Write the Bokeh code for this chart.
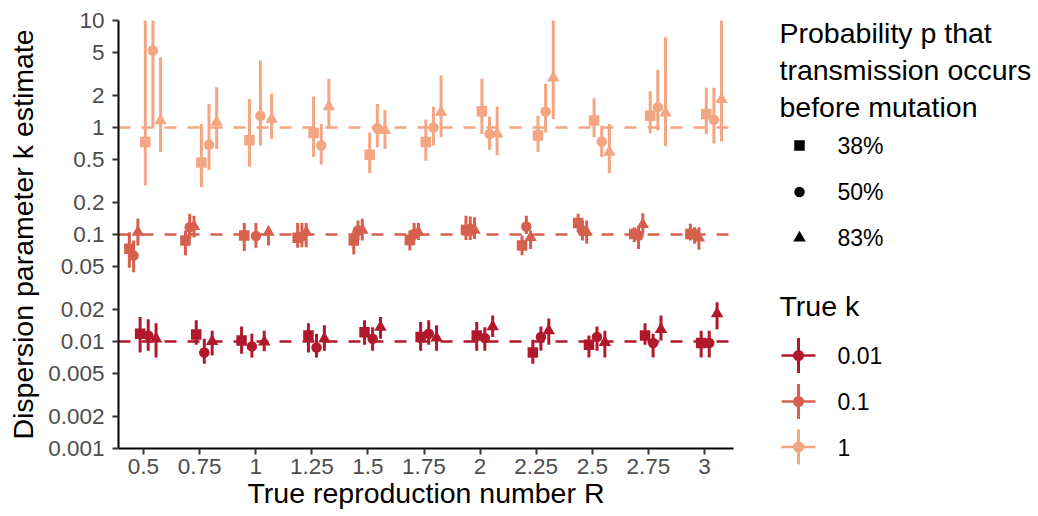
from bokeh.plotting import figure
from bokeh.models import Range1d, FixedTicker, CustomJSTickFormatter, Span, ColumnDataSource
from bokeh.layouts import row
from bokeh.core.properties import value
from bokeh.embed import file_html
from bokeh.resources import INLINE

# ---------------- data ----------------
R = [0.5, 0.75, 1, 1.25, 1.5, 1.75, 2, 2.25, 2.5, 2.75, 3]
x_tick_labels = ["0.5", "0.75", "1", "1.25", "1.5", "1.75", "2", "2.25", "2.5", "2.75", "3"]
y_ticks = [0.001, 0.002, 0.005, 0.01, 0.02, 0.05, 0.1, 0.2, 0.5, 1, 2, 5, 10]
y_tick_labels = ["0.001", "0.002", "0.005", "0.01", "0.02", "0.05", "0.1", "0.2", "0.5", "1", "2", "5", "10"]

true_k = [0.01, 0.1, 1]
k_labels = ["0.01", "0.1", "1"]
p_labels = ["38%", "50%", "83%"]

# true k = 1
est_k1_p38 = [0.73, 0.47, 0.76, 0.89, 0.556, 0.73, 1.42, 0.84, 1.16, 1.29, 1.34]
lo_k1_p38 = [0.287, 0.277, 0.43, 0.53, 0.374, 0.49, 0.87, 0.59, 0.81, 0.885, 0.87]
hi_k1_p38 = [15.0, 1.08, 1.85, 1.95, 0.90, 1.19, 2.85, 1.29, 1.88, 2.18, 2.35]
est_k1_p50 = [5.24, 0.69, 1.29, 0.68, 0.985, 1.0, 0.87, 1.41, 0.74, 1.55, 1.18]
lo_k1_p50 = [1.0, 0.40, 0.68, 0.45, 0.654, 0.68, 0.62, 0.90, 0.53, 0.94, 0.71]
hi_k1_p50 = [15.0, 1.66, 4.23, 1.08, 1.66, 1.57, 1.27, 2.56, 1.04, 3.46, 2.35]
est_k1_p83 = [1.16, 1.12, 1.2, 1.57, 0.94, 1.39, 0.87, 2.91, 0.59, 1.37, 1.83]
lo_k1_p83 = [0.59, 0.63, 0.78, 1.0, 0.63, 0.81, 0.55, 1.2, 0.374, 0.67, 0.74]
hi_k1_p83 = [4.54, 2.38, 2.07, 2.85, 1.46, 3.06, 1.57, 15.0, 1.08, 6.98, 15.0]

# true k = 0.1
est_k01_p38 = [0.0735, 0.088, 0.098, 0.093, 0.088, 0.089, 0.11, 0.079, 0.128, 0.101, 0.101]
lo_k01_p38 = [0.049, 0.064, 0.07, 0.075, 0.065, 0.071, 0.089, 0.064, 0.105, 0.085, 0.088]
hi_k01_p38 = [0.105, 0.109, 0.128, 0.128, 0.109, 0.109, 0.15, 0.098, 0.156, 0.117, 0.126]
est_k01_p50 = [0.0636, 0.117, 0.097, 0.096, 0.109, 0.101, 0.113, 0.119, 0.109, 0.098, 0.101]
lo_k01_p50 = [0.0445, 0.091, 0.075, 0.076, 0.089, 0.088, 0.089, 0.101, 0.088, 0.073, 0.082]
hi_k01_p50 = [0.088, 0.156, 0.128, 0.128, 0.135, 0.128, 0.147, 0.15, 0.135, 0.12, 0.117]
est_k01_p83 = [0.105, 0.119, 0.105, 0.105, 0.11, 0.105, 0.11, 0.094, 0.105, 0.124, 0.093]
lo_k01_p83 = [0.079, 0.094, 0.079, 0.076, 0.088, 0.089, 0.091, 0.073, 0.082, 0.101, 0.072]
hi_k01_p83 = [0.14, 0.15, 0.119, 0.128, 0.14, 0.128, 0.145, 0.109, 0.135, 0.158, 0.117]

# true k = 0.01
est_k001_p38 = [0.0118, 0.0116, 0.0102, 0.0114, 0.0122, 0.011, 0.0114, 0.0079, 0.0093, 0.0114, 0.0097]
lo_k001_p38 = [0.0079, 0.0093, 0.0077, 0.0079, 0.0093, 0.0082, 0.0082, 0.0062, 0.0071, 0.0093, 0.0071]
hi_k001_p38 = [0.0169, 0.0158, 0.0138, 0.0148, 0.0158, 0.0152, 0.0152, 0.0104, 0.0114, 0.0148, 0.0126]
est_k001_p50 = [0.0114, 0.0079, 0.009, 0.0088, 0.0106, 0.0118, 0.0108, 0.011, 0.011, 0.0097, 0.0097]
lo_k001_p50 = [0.0082, 0.0062, 0.0071, 0.0071, 0.0082, 0.0093, 0.0082, 0.0082, 0.0082, 0.0071, 0.0071]
hi_k001_p50 = [0.0161, 0.0106, 0.0118, 0.0118, 0.0136, 0.0158, 0.0136, 0.0138, 0.0138, 0.0118, 0.0126]
est_k001_p83 = [0.0106, 0.01, 0.0099, 0.0106, 0.0136, 0.0108, 0.0138, 0.0126, 0.0098, 0.013, 0.0182]
lo_k001_p83 = [0.0071, 0.0074, 0.0081, 0.0082, 0.0106, 0.0082, 0.011, 0.0093, 0.0071, 0.0102, 0.013]
hi_k001_p83 = [0.0148, 0.0126, 0.0126, 0.0142, 0.0169, 0.0142, 0.0175, 0.0164, 0.0126, 0.0175, 0.0233]

series = {
    (0, 0): (est_k001_p38, lo_k001_p38, hi_k001_p38),
    (0, 1): (est_k001_p50, lo_k001_p50, hi_k001_p50),
    (0, 2): (est_k001_p83, lo_k001_p83, hi_k001_p83),
    (1, 0): (est_k01_p38, lo_k01_p38, hi_k01_p38),
    (1, 1): (est_k01_p50, lo_k01_p50, hi_k01_p50),
    (1, 2): (est_k01_p83, lo_k01_p83, hi_k01_p83),
    (2, 0): (est_k1_p38, lo_k1_p38, hi_k1_p38),
    (2, 1): (est_k1_p50, lo_k1_p50, hi_k1_p50),
    (2, 2): (est_k1_p83, lo_k1_p83, hi_k1_p83),
}

# ---------------- styles ----------------
k_colors = ["#B2182B", "#D6604D", "#F4A582"]
p_markers = ["square", "circle", "triangle"]
p_sizes = [10.5, 10.5, 12.5]
# horizontal dodge (in R units) per [k][p]; R = 1 is dodged more widely
dodge = [[-0.015, 0.021, 0.056], [-0.063, -0.044, -0.025], [0.008, 0.042, 0.076]]
dodge_at_1 = [[-0.063, -0.017, 0.038], [-0.051, 0.001, 0.057], [-0.028, 0.021, 0.071]]

FONT = "Liberation Sans"

p = figure(frame_width=615, frame_height=428,
           x_range=Range1d(0.3886, 3.1292), y_range=Range1d(0.001, 10),
           y_axis_type="log", output_backend="svg", toolbar_location=None,
           min_border_left=118, min_border_right=7, min_border_top=20, min_border_bottom=68,
           background_fill_color="white", border_fill_color="white")
p.outline_line_color = None
p.grid.grid_line_color = None

for ki, k in enumerate(true_k):
    p.add_layout(Span(location=k, dimension="width", line_color=k_colors[ki],
                      line_width=2.5, line_dash="12 11", level="underlay"))

for ki in [0, 1, 2]:
    for pi in [0, 1, 2]:
        est, lo, hi = series[(ki, pi)]
        xs = [r + (dodge_at_1[ki][pi] if r == 1 else dodge[ki][pi]) for r in R]
        src = ColumnDataSource(dict(x=xs, est=est, lo=lo, hi=hi))
        p.segment(x0="x", y0="lo", x1="x", y1="hi", source=src,
                  line_color=k_colors[ki], line_width=3)
        p.scatter(x="x", y="est", source=src, marker=p_markers[pi], size=p_sizes[pi],
                  fill_color=k_colors[ki], line_color=None)

p.xaxis.ticker = FixedTicker(ticks=R)
p.xaxis.formatter = CustomJSTickFormatter(args=dict(vals=R, labels=x_tick_labels),
    code="const i = vals.indexOf(tick); return i >= 0 ? labels[i] : '';")
p.yaxis.ticker = FixedTicker(ticks=y_ticks)
p.yaxis.formatter = CustomJSTickFormatter(args=dict(vals=y_ticks, labels=y_tick_labels),
    code="const i = vals.indexOf(tick); return i >= 0 ? labels[i] : '';")

p.xaxis.axis_label = "True reproduction number R"
p.yaxis.axis_label = "Dispersion parameter k estimate"
for ax in [p.xaxis[0], p.yaxis[0]]:
    ax.axis_line_color = "black"
    ax.axis_line_width = 2
    ax.major_tick_line_color = "#333333"
    ax.major_tick_line_width = 2
    ax.major_tick_out = 6
    ax.major_tick_in = 0
    ax.minor_tick_line_color = None
    ax.major_label_text_font = FONT
    ax.major_label_text_font_size = "22.5px"
    ax.major_label_text_color = "#4D4D4D"
    ax.axis_label_text_font = FONT
    ax.axis_label_text_font_size = "28.5px"
    ax.axis_label_text_font_style = "normal"
    ax.axis_label_text_color = "black"
p.xaxis.major_label_standoff = 4
p.xaxis.axis_label_standoff = 0
p.yaxis.major_label_standoff = 8
p.yaxis.axis_label_standoff = 6

# ---------------- legend panel ----------------
# In a row, Bokeh aligns this panel's frame with the main frame (page rows 20..448),
# so the ranges are set so that one unit equals one page pixel.
lg = figure(width=298, height=516, x_range=Range1d(0, 298), y_range=Range1d(448, 20),
            x_axis_location=None, y_axis_location=None, output_backend="svg",
            toolbar_location=None, min_border=0)
lg.outline_line_color = None
lg.grid.grid_line_color = None

renderers = []
title_p = ["Probability p that", "transmission occurs", "before mutation"]
renderers.append(lg.text(x=[39, 39, 39], y=[32, 69, 106], text=title_p, text_font=value(FONT),
                         text_font_size="28.5px", text_baseline="middle", text_color="black"))
py = [145, 191.5, 237.5]
renderers.append(lg.scatter(x=[59, 59, 59], y=py, marker=p_markers, size=p_sizes,
                            fill_color="black", line_color=None))
renderers.append(lg.text(x=[97, 97, 97], y=py, text=p_labels, text_font=value(FONT),
                         text_font_size="23px", text_baseline="middle", text_color="black"))

renderers.append(lg.text(x=[39], y=[305], text=["True k"], text_font=value(FONT),
                         text_font_size="28.5px", text_baseline="middle", text_color="black"))
ky = [355, 401, 446.5]
renderers.append(lg.segment(x0=[41] * 3, y0=ky, x1=[75] * 3, y1=ky, line_color=k_colors, line_width=2.5))
renderers.append(lg.segment(x0=[58] * 3, y0=[v - 17.5 for v in ky], x1=[58] * 3,
                            y1=[v + 17.5 for v in ky], line_color=k_colors, line_width=3))
renderers.append(lg.scatter(x=[58] * 3, y=ky, marker="circle", size=11, fill_color=k_colors,
                            line_color=None))
renderers.append(lg.text(x=[97, 97, 97], y=ky, text=k_labels, text_font=value(FONT),
                         text_font_size="23px", text_baseline="middle", text_color="black"))
for r in renderers:
    r.level = "overlay"

layout = row(p, lg)
open("out.html", "w").write(file_html(layout, INLINE))
